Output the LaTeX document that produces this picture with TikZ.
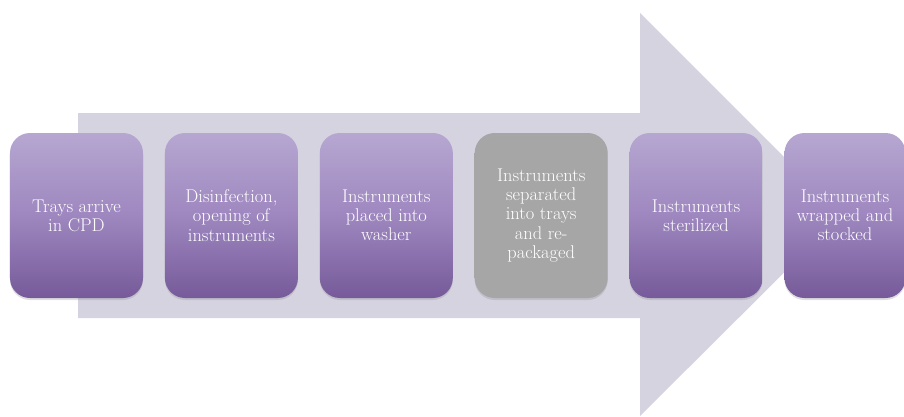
\documentclass[tikz,border=0pt]{standalone}
\usepackage{tikz}
\usetikzlibrary{positioning,shadows}

\definecolor{arrowfill}{HTML}{D6D3E1}
\definecolor{boxtop}{HTML}{B6A7D1}
\definecolor{boxmid}{HTML}{9E87BF}
\definecolor{boxbot}{HTML}{765A9A}
\definecolor{boxgray}{HTML}{A6A6A6}

\begin{document}
\begin{tikzpicture}[
  x=1bp, y=1bp,
  node distance=21.5bp,
  stepbox/.style={rectangle, rounded corners=20bp, minimum width=133bp, minimum height=165bp,
    top color=boxtop, bottom color=boxbot, middle color=boxmid, text=white, align=center,
    font=\fontsize{18.5}{19.3}\selectfont, inner sep=2bp,
    drop shadow={opacity=0.25, shadow xshift=0bp, shadow yshift=-2bp}},
  graybox/.style={stepbox, top color=boxgray, bottom color=boxgray, middle color=boxgray}
]
\useasboundingbox (0,0) rectangle (904,416);

% Background arrow
\fill[arrowfill] (78,303) -- (640,303) -- (640,403) -- (842,201) -- (640,0) -- (640,98) -- (78,98) -- cycle;

% Process steps
\node[stepbox] (arrive) at (76.5,200.5) {Trays arrive\\in CPD};
\node[stepbox, right=of arrive] (disinf) {Disinfection,\\opening of\\instruments};
\node[stepbox, right=of disinf] (washer) {Instruments\\placed into\\washer};
\node[graybox, right=of washer] (separate) {Instruments\\separated\\into trays\\and re-\\packaged};
\node[stepbox, right=of separate] (steril) {Instruments\\sterilized};
\node[stepbox, minimum width=121bp, right=of steril] (stock) {Instruments\\wrapped and\\stocked};

\end{tikzpicture}
\end{document}
